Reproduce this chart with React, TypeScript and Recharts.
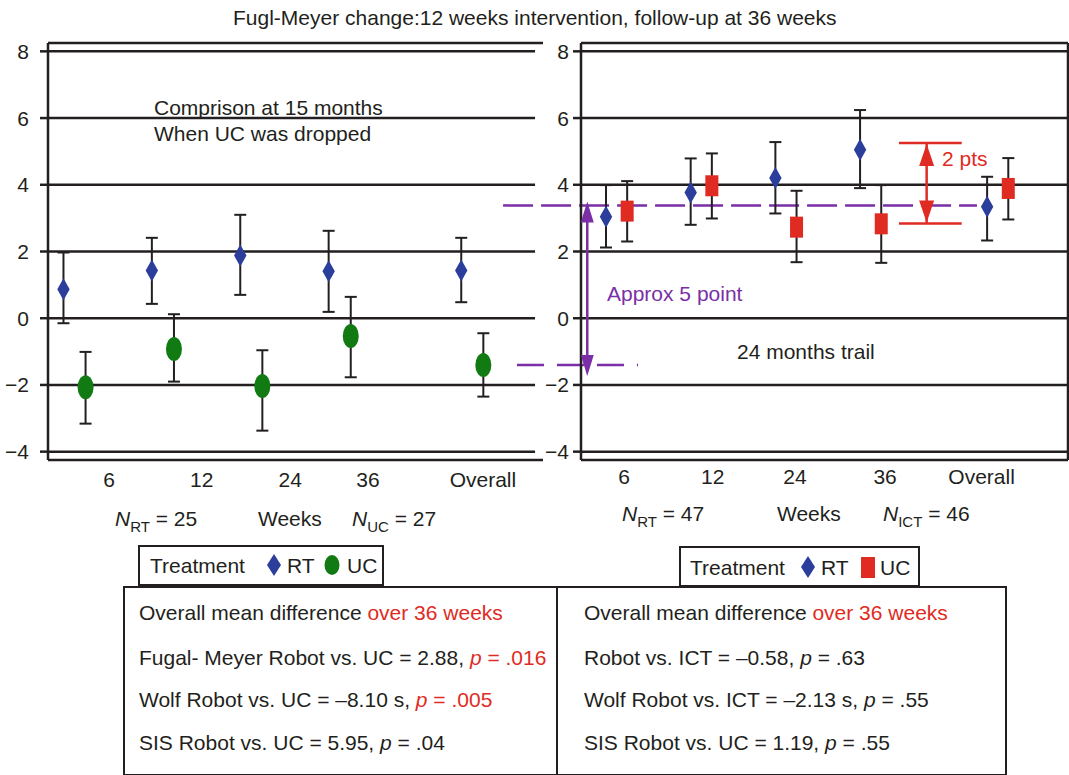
import React from 'react';
import { ScatterChart, Scatter, XAxis, YAxis, ErrorBar, ReferenceLine, ReferenceDot } from 'recharts';

const weeks = ['6', '12', '24', '36', 'Overall'];
const groupX = [0, 1, 2, 3, 4.5];
const yTicks = [-4, -2, 0, 2, 4, 6, 8];

// 15 month trial: RT vs UC
const rtLeftMean = [0.87, 1.43, 1.88, 1.41, 1.43];
const rtLeftLow = [-0.15, 0.43, 0.7, 0.19, 0.48];
const rtLeftHigh = [1.97, 2.41, 3.1, 2.62, 2.41];
const ucLeftMean = [-2.07, -0.92, -2.03, -0.53, -1.4];
const ucLeftLow = [-3.16, -1.9, -3.37, -1.77, -2.35];
const ucLeftHigh = [-1.01, 0.12, -0.96, 0.64, -0.45];

// 24 month trial: RT vs ICT
const rtRightMean = [3.04, 3.77, 4.2, 5.05, 3.34];
const rtRightLow = [2.12, 2.8, 3.14, 3.9, 2.33];
const rtRightHigh = [3.99, 4.79, 5.28, 6.24, 4.24];
const ucRightMean = [3.21, 3.97, 2.73, 2.83, 3.89];
const ucRightLow = [2.3, 2.99, 1.68, 1.66, 2.96];
const ucRightHigh = [4.11, 4.94, 3.82, 3.99, 4.8];

// annotation levels
const rtLevel = 3.38;
const ucLevel = -1.4;
const ptsTop = 5.25;
const ptsBottom = 2.84;

const INK = '#231f20';
const BLUE = '#2b3e9c';
const GREEN = '#127a12';
const RED = '#e02b23';
const PURPLE = '#7a2fa6';
const FONT = '"Liberation Sans", Arial, Helvetica, sans-serif';

const toPoints = (mean: number[], lo: number[], hi: number[], shift: number) =>
  mean.map((m, i) => ({ x: groupX[i] + shift, y: m, err: [m - lo[i], hi[i] - m] }));

const Diamond = (p: any) => (
  <path d={`M${p.cx},${p.cy - 11} L${p.cx + 6.2},${p.cy} L${p.cx},${p.cy + 11} L${p.cx - 6.2},${p.cy} Z`} fill={BLUE} />
);
const Oval = (p: any) => <ellipse cx={p.cx} cy={p.cy} rx={8} ry={12} fill={GREEN} />;
const Block = (p: any) => <rect x={p.cx - 6.5} y={p.cy - 10.5} width={13} height={21} fill={RED} />;
const Nothing = () => <g />;

// arrow heads: tip offset from the point, dir -1 = up, 1 = down
const head = (color: string, w: number, h: number, tip: number, dir: number) => (p: any) => {
  const ty = p.cy + tip;
  const by = ty - dir * h;
  return <path d={`M${p.cx},${ty} L${p.cx + w / 2},${by} L${p.cx - w / 2},${by} Z`} fill={color} />;
};

const Txt = ({ x, y, children, color = INK, size = 21 }: any) => (
  <div style={{ position: 'absolute', left: x, top: y - 10.5, fontSize: size, lineHeight: `${size}px`, color, whiteSpace: 'nowrap' }}>
    {children}
  </div>
);

const Sub = ({ children }: any) => (
  <span style={{ fontSize: 15, position: 'relative', top: 6 }}>{children}</span>
);

const tickStyle = { fontSize: 21, fill: INK, fontFamily: FONT };
const fmtY = (v: number) => String(v).replace('-', '\u2212');

const leftShift = [0.39, 0.44, 0.44, 0.32, 0.12];
const rightShift = [0.09, 0.135, 0.107, 0.17, -0.19];

const errBar = <ErrorBar dataKey="err" direction="y" width={6} stroke={INK} strokeWidth={2} />;

export default function App() {
  const rtL = toPoints(rtLeftMean, rtLeftLow, rtLeftHigh, -0.125);
  const ucL = toPoints(ucLeftMean, ucLeftLow, ucLeftHigh, 0.125);
  const rtR = toPoints(rtRightMean, rtRightLow, rtRightHigh, -0.125);
  const ucR = toPoints(ucRightMean, ucRightLow, ucRightHigh, 0.125);

  return (
    <div style={{ position: 'absolute', left: 0, top: 0, width: 1069, height: 775, background: '#fff', fontFamily: FONT, color: INK, overflow: 'hidden' }}>
      <div style={{ position: 'absolute', left: 0, top: 0 }}>
        <ScatterChart width={560} height={500} margin={{ top: 43, right: 17, bottom: 10, left: 0 }}>
          <XAxis type="number" dataKey="x" domain={[-0.3, 5.3]} allowDataOverflow ticks={groupX.map((g, i) => g + leftShift[i])}
            tickFormatter={(_v: any, i: number) => weeks[i]} interval={0} tickSize={0} tickMargin={12.5}
            tick={tickStyle} axisLine={{ stroke: INK, strokeWidth: 2.5 }} tickLine={false} />
          <YAxis type="number" dataKey="y" width={48} domain={[-4.25, 8.25]} allowDataOverflow ticks={yTicks} interval={0}
            tickFormatter={fmtY} tick={tickStyle} tickSize={8} tickMargin={11}
            axisLine={{ stroke: INK, strokeWidth: 2.5 }} tickLine={{ stroke: INK, strokeWidth: 2.5 }} />
          {yTicks.map(v => (
            <ReferenceLine key={v} segment={[{ x: -0.3, y: v }, { x: 5.21, y: v }]} stroke={INK} strokeWidth={2.5} ifOverflow="visible" />
          ))}
          <ReferenceLine y={8.25} stroke={INK} strokeWidth={2.5} ifOverflow="visible" />
          {/* whiskers first, markers on top */}
          <Scatter data={rtL} shape={Nothing} isAnimationActive={false}>{errBar}</Scatter>
          <Scatter data={ucL} shape={Nothing} isAnimationActive={false}>{errBar}</Scatter>
          <Scatter data={rtL} shape={Diamond} isAnimationActive={false} />
          <Scatter data={ucL} shape={Oval} isAnimationActive={false} />
        </ScatterChart>
      </div>

      <div style={{ position: 'absolute', left: 0, top: 0 }}>
        <ScatterChart width={1069} height={500} margin={{ top: 43, right: 1, bottom: 10, left: 541 }}>
          <XAxis type="number" dataKey="x" domain={[-0.42, 5.33]} allowDataOverflow ticks={groupX.map((g, i) => g + rightShift[i])}
            tickFormatter={(_v: any, i: number) => weeks[i]} interval={0} tickSize={0} tickMargin={9}
            tick={tickStyle} axisLine={{ stroke: INK, strokeWidth: 2.5 }} tickLine={false} />
          <YAxis type="number" dataKey="y" width={40} domain={[-4.25, 8.25]} allowDataOverflow ticks={yTicks} interval={0}
            tickFormatter={fmtY} tick={tickStyle} tickSize={8} tickMargin={4}
            axisLine={{ stroke: INK, strokeWidth: 2.5 }} tickLine={{ stroke: INK, strokeWidth: 2.5 }} />
          {yTicks.map(v => (
            <ReferenceLine key={v} segment={[{ x: -0.42, y: v }, { x: 5.33, y: v }]} stroke={INK} strokeWidth={2.5} ifOverflow="visible" />
          ))}
          <ReferenceLine y={8.25} stroke={INK} strokeWidth={2.5} ifOverflow="visible" />
          <ReferenceLine x={5.33} stroke={INK} strokeWidth={2.5} ifOverflow="visible" />

          {/* approx 5 point gap */}
          <ReferenceLine segment={[{ x: -1.34, y: rtLevel }, { x: 4.255, y: rtLevel }]} stroke={PURPLE} strokeWidth={2.5} strokeDasharray="30 8" ifOverflow="visible" />
          <ReferenceLine segment={[{ x: -1.176, y: ucLevel }, { x: 0.253, y: ucLevel }]} stroke={PURPLE} strokeWidth={2.5} strokeDasharray="27 13" ifOverflow="visible" />
          <ReferenceLine segment={[{ x: -0.346, y: rtLevel }, { x: -0.346, y: ucLevel }]} stroke={PURPLE} strokeWidth={2.5} ifOverflow="visible" />
          <ReferenceDot x={-0.346} y={rtLevel} r={1} shape={head(PURPLE, 13, 21, -4, -1)} ifOverflow="visible" />
          <ReferenceDot x={-0.346} y={ucLevel} r={1} shape={head(PURPLE, 13, 21, 11, 1)} ifOverflow="visible" />

          {/* 2 pts */}
          <ReferenceLine segment={[{ x: 3.334, y: ptsTop }, { x: 4.075, y: ptsTop }]} stroke={RED} strokeWidth={2.5} ifOverflow="visible" />
          <ReferenceLine segment={[{ x: 3.334, y: ptsBottom }, { x: 4.075, y: ptsBottom }]} stroke={RED} strokeWidth={2.5} ifOverflow="visible" />
          <ReferenceLine segment={[{ x: 3.661, y: ptsTop }, { x: 3.661, y: ptsBottom }]} stroke={RED} strokeWidth={2.5} ifOverflow="visible" />
          <ReferenceDot x={3.661} y={ptsTop} r={1} shape={head(RED, 15, 22, 1, -1)} ifOverflow="visible" />
          <ReferenceDot x={3.661} y={ptsBottom} r={1} shape={head(RED, 15, 22, -1, 1)} ifOverflow="visible" />

          <Scatter data={rtR} shape={Nothing} isAnimationActive={false}>{errBar}</Scatter>
          <Scatter data={ucR} shape={Nothing} isAnimationActive={false}>{errBar}</Scatter>
          <Scatter data={rtR} shape={Diamond} isAnimationActive={false} />
          <Scatter data={ucR} shape={Block} isAnimationActive={false} />
        </ScatterChart>
      </div>

      <Txt x={233} y={17}>Fugl-Meyer change:12 weeks intervention, follow-up at 36 weeks</Txt>
      <Txt x={154} y={107}>Comprison at 15 months</Txt>
      <Txt x={154} y={133}>When UC was dropped</Txt>
      <Txt x={607} y={293} color={PURPLE}>Approx 5 point</Txt>
      <Txt x={737} y={351}>24 months trail</Txt>
      <Txt x={942} y={158} color={RED}>2 pts</Txt>

      <Txt x={115} y={518}><i>N</i><Sub>RT</Sub> = 25</Txt>
      <Txt x={258} y={518}>Weeks</Txt>
      <Txt x={352} y={518}><i>N</i><Sub>UC</Sub> = 27</Txt>
      <Txt x={622} y={513}><i>N</i><Sub>RT</Sub> = 47</Txt>
      <Txt x={777} y={513}>Weeks</Txt>
      <Txt x={883} y={513}><i>N</i><Sub>ICT</Sub> = 46</Txt>

      {/* legends */}
      <div style={{ position: 'absolute', left: 138, top: 545, width: 246, height: 41, border: `2.5px solid ${INK}`, boxSizing: 'border-box', background: '#fff' }} />
      <Txt x={150} y={565}>Treatment</Txt>
      <svg style={{ position: 'absolute', left: 266, top: 553 }} width={16} height={24}>
        <path d="M8,1 L15,12 L8,23 L1,12 Z" fill={BLUE} />
      </svg>
      <Txt x={287} y={565}>RT</Txt>
      <svg style={{ position: 'absolute', left: 324, top: 554 }} width={16} height={22}>
        <ellipse cx={8} cy={11} rx={7.5} ry={10} fill={GREEN} />
      </svg>
      <Txt x={347} y={565}>UC</Txt>

      <div style={{ position: 'absolute', left: 679, top: 546, width: 241, height: 41, border: `2.5px solid ${INK}`, boxSizing: 'border-box', background: '#fff' }} />
      <Txt x={690} y={567}>Treatment</Txt>
      <svg style={{ position: 'absolute', left: 800, top: 555 }} width={16} height={24}>
        <path d="M8,1 L15,12 L8,23 L1,12 Z" fill={BLUE} />
      </svg>
      <Txt x={821} y={567}>RT</Txt>
      <div style={{ position: 'absolute', left: 861, top: 557, width: 14, height: 21, background: RED }} />
      <Txt x={880} y={567}>UC</Txt>

      {/* summary table */}
      <div style={{ position: 'absolute', left: 123, top: 586, width: 884, height: 190, border: `2.5px solid ${INK}`, boxSizing: 'border-box' }} />
      <div style={{ position: 'absolute', left: 555.5, top: 586, width: 2.5, height: 190, background: INK }} />

      <Txt x={139} y={612}>Overall mean difference <span style={{ color: RED }}>over 36 weeks</span></Txt>
      <Txt x={139} y={657}>Fugal- Meyer Robot vs. UC = 2.88, <span style={{ color: RED }}><i>p</i> = .016</span></Txt>
      <Txt x={139} y={699}>Wolf Robot vs. UC = –8.10 s, <span style={{ color: RED }}><i>p</i> = .005</span></Txt>
      <Txt x={139} y={742}>SIS Robot vs. UC = 5.95, <i>p</i> = .04</Txt>

      <Txt x={584} y={612}>Overall mean difference <span style={{ color: RED }}>over 36 weeks</span></Txt>
      <Txt x={584} y={657}>Robot vs. ICT = –0.58, <i>p</i> = .63</Txt>
      <Txt x={584} y={699}>Wolf Robot vs. ICT = –2.13 s, <i>p</i> = .55</Txt>
      <Txt x={584} y={742}>SIS Robot vs. UC = 1.19, <i>p</i> = .55</Txt>
    </div>
  );
}
